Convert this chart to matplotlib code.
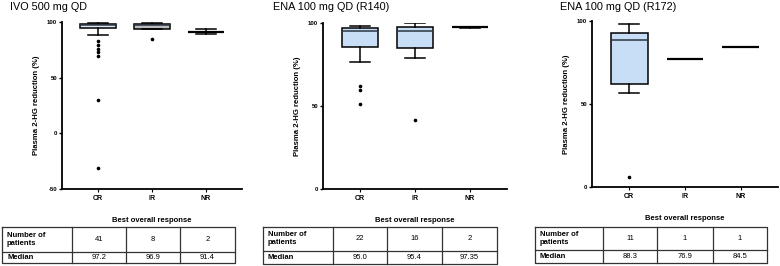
import matplotlib
matplotlib.use("Agg")
import matplotlib.pyplot as plt

plt.rcParams['font.family'] = ['Liberation Sans', 'DejaVu Sans']

categories = ["CR", "IR", "NR"]
titles = ["IVO 500 mg QD", "ENA 100 mg QD (R140)", "ENA 100 mg QD (R172)"]

# box statistics per panel: q1, median, q3, whisker low, whisker high, fliers
p1_q1 = [94.3, 93.6, 91.4]
p1_med = [97.2, 96.9, 91.4]
p1_q3 = [98.0, 98.0, 91.4]
p1_wlo = [88.0, 93.6, 89.5]
p1_whi = [99.4, 99.0, 93.3]
p1_fliers = [[83.0, 79.5, 76.0, 73.0, 69.5, 30.0, -31.0], [85.0], []]

p2_q1 = [85.8, 85.2, 97.35]
p2_med = [95.0, 95.4, 97.35]
p2_q3 = [96.8, 97.3, 97.35]
p2_wlo = [76.3, 79.2, 97.0]
p2_whi = [98.0, 99.8, 97.7]
p2_fliers = [[61.8, 59.8, 51.0], [41.3], []]

p3_q1 = [62.0, 76.9, 84.5]
p3_med = [88.3, 76.9, 84.5]
p3_q3 = [92.8, 76.9, 84.5]
p3_wlo = [56.8, 76.9, 84.5]
p3_whi = [98.2, 76.9, 84.5]
p3_fliers = [[6.0], [], []]

n_patients = [[41, 8, 2], [22, 16, 2], [11, 1, 1]]
medians_txt = [["97.2", "96.9", "91.4"], ["95.0", "95.4", "97.35"], ["88.3", "76.9", "84.5"]]

ylims = [(-50, 100), (0, 100), (0, 100)]
yticks = [[-50, 0, 50, 100], [0, 50, 100], [0, 50, 100]]

LB = "#c8ddf6"
box_colors = [["#deebf7", "#bdbdbd", "white"], [LB, LB, "white"], [LB, "white", "white"]]
cap_on = [[True, True, True], [True, True, True], [True, False, False]]

W, H = 780, 266
fig = plt.figure(figsize=(W / 100, H / 100), dpi=100)

axes_px = [(62, 22, 242, 189), (323, 23, 507, 189), (592, 21, 778, 187)]
title_x = [10, 273, 560]
tables_px = [
    (2, 72, 126, 180, 235, 227, 252, 263),
    (263, 333, 387, 442, 497, 227, 251, 264),
    (535, 603, 657, 713, 767, 227, 250, 263),
]

panels = [
    (p1_q1, p1_med, p1_q3, p1_wlo, p1_whi, p1_fliers),
    (p2_q1, p2_med, p2_q3, p2_wlo, p2_whi, p2_fliers),
    (p3_q1, p3_med, p3_q3, p3_wlo, p3_whi, p3_fliers),
]

for i, (q1, med, q3, wlo, whi, fl) in enumerate(panels):
    l, t, r, b = axes_px[i]
    ax = fig.add_axes([l / W, 1 - b / H, (r - l) / W, (b - t) / H])
    positions = list(range(len(categories)))
    for j in positions:
        stats = [dict(q1=q1[j], med=med[j], q3=q3[j], whislo=wlo[j], whishi=whi[j], fliers=fl[j])]
        single = (q1[j] == q3[j])
        ax.bxp(stats, positions=[j], widths=0.66, patch_artist=True,
               showcaps=cap_on[i][j], capwidths=0.36,
               boxprops=dict(facecolor=box_colors[i][j], edgecolor="black", linewidth=1.1),
               medianprops=dict(color="black" if single else "#2b3540", linewidth=1.6 if single else 1.1),
               whiskerprops=dict(color="black", linewidth=1.1),
               capprops=dict(color="black", linewidth=1.1),
               flierprops=dict(marker="o", markersize=1.6, markerfacecolor="black",
                               markeredgecolor="black", linestyle="none"))
    ax.set_xlim(-0.67, 2.67)
    ax.set_ylim(*ylims[i])
    ax.set_yticks(yticks[i])
    ax.set_xticks(positions)
    ax.set_xticklabels(categories, fontsize=5.0, fontweight="bold")
    ax.set_yticklabels([str(v) for v in yticks[i]], fontsize=4.3, fontweight="bold")
    ax.tick_params(axis="y", length=2.5, width=1.0, pad=1)
    ax.tick_params(axis="x", length=2.5, width=0.8, pad=2)
    for s in ["top", "right"]:
        ax.spines[s].set_visible(False)
    for s in ["left", "bottom"]:
        ax.spines[s].set_linewidth(1.3)
    ax.set_ylabel("Plasma 2-HG reduction (%)", fontsize=5.6, fontweight="bold", labelpad=5)
    ax.set_xlabel("Best overall response", fontsize=5.5, fontweight="bold")
    ax.xaxis.set_label_coords(0.5, -(217 - 189) / (b - t))
    fig.text(title_x[i] / W, 1 - 7 / H, titles[i], fontsize=7.8, ha="left", va="center")

# tables drawn in figure pixel space
ov = fig.add_axes([0, 0, 1, 1])
ov.set_xlim(0, W)
ov.set_ylim(H, 0)
ov.axis("off")
for i, (x0, c1, c2, c3, x1, y0, ym, y1) in enumerate(tables_px):
    lw = 0.9
    ov.plot([x0, x1, x1, x0, x0], [y0, y0, y1, y1, y0], color="#333333", lw=lw)
    ov.plot([x0, x1], [ym, ym], color="#333333", lw=lw)
    for cx in (c1, c2, c3):
        ov.plot([cx, cx], [y0, y1], color="#333333", lw=lw)
    ov.text(x0 + 5, (y0 + ym) / 2, "Number of\npatients", fontsize=5.5, fontweight="bold",
            ha="left", va="center", linespacing=1.2)
    ov.text(x0 + 5, (ym + y1) / 2, "Median", fontsize=5.5, fontweight="bold", ha="left", va="center")
    centers = [(c1 + c2) / 2, (c2 + c3) / 2, (c3 + x1) / 2]
    for k, cx in enumerate(centers):
        ov.text(cx, (y0 + ym) / 2, str(n_patients[i][k]), fontsize=5.5, ha="center", va="center")
        ov.text(cx, (ym + y1) / 2, medians_txt[i][k], fontsize=5.5, ha="center", va="center")

fig.savefig("out.png", dpi=100)
